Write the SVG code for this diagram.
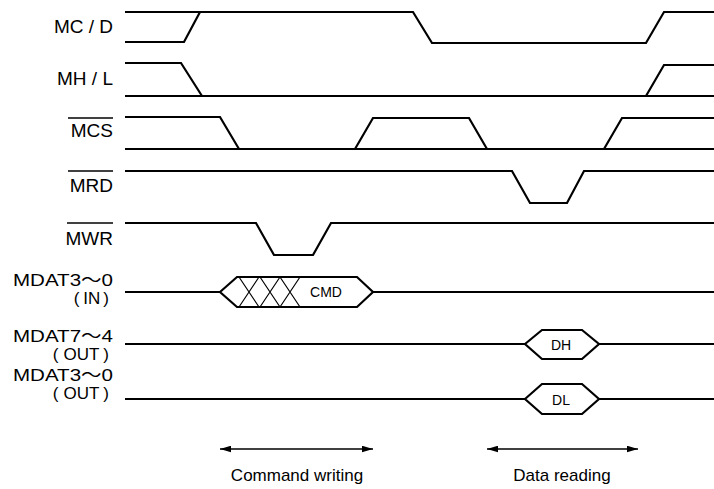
<svg xmlns="http://www.w3.org/2000/svg" width="714" height="489" viewBox="0 0 714 489">
<style>
.sig{fill:none;stroke:#000;stroke-width:2.2;stroke-linejoin:miter}
.thin{fill:none;stroke:#000;stroke-width:1.2}
.lbl{font-family:"Liberation Sans",Arial,"Noto Sans CJK JP",sans-serif;font-size:19px;fill:#000;text-anchor:end}
.lbs{font-family:"Liberation Sans",Arial,"Noto Sans CJK JP",sans-serif;font-size:17px;fill:#000;text-anchor:end}
.val{font-family:"Liberation Sans",Arial,sans-serif;font-size:14px;fill:#000;text-anchor:middle}
.cap{font-family:"Liberation Sans",Arial,sans-serif;font-size:17px;fill:#000;text-anchor:middle}
.ov{stroke:#000;stroke-width:1.6}
.arr{stroke:#000;stroke-width:1.4;fill:none;marker-start:url(#ah);marker-end:url(#ah)}
</style>
<defs>
<marker id="ah" viewBox="0 0 10 6" refX="10" refY="3" markerWidth="11" markerHeight="7" markerUnits="userSpaceOnUse" orient="auto-start-reverse">
<path d="M0,0 L10,3 L0,6 Z" fill="#000"/>
</marker>
</defs>
<rect width="714" height="489" fill="#fff"/>

<g id="MCD">
<text class="lbl" x="113" y="33">MC / D</text>
<path class="sig" d="M125,12 H413 L432,43 H646 L664,12 H714"/>
<path class="sig" d="M125,42 H184 L200,12"/>
</g>

<g id="MHL">
<text class="lbl" x="113" y="85">MH / L</text>
<path class="sig" d="M125,63 H181 L202,96"/>
<path class="sig" d="M125,96 H714"/>
<path class="sig" d="M646,96 L664,65 H714"/>
</g>

<g id="MCS">
<text class="lbl" x="113" y="137">MCS</text>
<line class="ov" x1="68" y1="118" x2="113" y2="118"/>
<path class="sig" d="M125,117 H220 L239,149"/>
<path class="sig" d="M125,149 H714"/>
<path class="sig" d="M355,149 L373,118 H469 L487,149"/>
<path class="sig" d="M604,149 L622,118 H714"/>
</g>

<g id="MRD">
<text class="lbl" x="113" y="192">MRD</text>
<line class="ov" x1="68" y1="171" x2="113" y2="171"/>
<path class="sig" d="M125,171 H512 L530,203 H567 L584,171 H714"/>
</g>

<g id="MWR">
<text class="lbl" x="113" y="245">MWR</text>
<line class="ov" x1="67" y1="223" x2="113" y2="223"/>
<path class="sig" d="M125,223 H256 L274,255 H313 L331,223 H714"/>
</g>

<g id="MDAT30IN">
<text class="lbs" x="113" y="286" textLength="100" lengthAdjust="spacingAndGlyphs">MDAT3～0</text>
<text class="lbs" x="109" y="304">(<tspan dx="4">IN</tspan><tspan dx="3">)</tspan></text>
<path class="sig" d="M125,292 H220 M373,292 H714"/>
<path class="sig" d="M220,292 L237,277 H357 L373,292 L357,307 H237 Z"/>
<path class="thin" d="M239,277 L259,307 M259,277 L239,307 M260,277 L280,307 M280,277 L260,307 M280,277 L300,307 M300,277 L280,307"/>
<text class="val" x="326" y="297">CMD</text>
</g>

<g id="MDAT74OUT">
<text class="lbs" x="113" y="342" textLength="100" lengthAdjust="spacingAndGlyphs">MDAT7～4</text>
<text class="lbs" x="109" y="360">(<tspan dx="5">OUT</tspan><tspan dx="4">)</tspan></text>
<path class="sig" d="M125,344 H525 M599,344 H714"/>
<path class="sig" d="M525,344 L542,330 H582 L599,344 L582,359 H542 Z"/>
<text class="val" x="561" y="350">DH</text>
</g>

<g id="MDAT30OUT">
<text class="lbs" x="113" y="381" textLength="100" lengthAdjust="spacingAndGlyphs">MDAT3～0</text>
<text class="lbs" x="109" y="399">(<tspan dx="5">OUT</tspan><tspan dx="4">)</tspan></text>
<path class="sig" d="M125,399 H525 M599,399 H714"/>
<path class="sig" d="M525,399 L542,384 H582 L599,399 L582,414 H542 Z"/>
<text class="val" x="561" y="405">DL</text>
</g>

<g id="connectors">
<line class="arr" x1="220" y1="449" x2="373" y2="449"/>
<line class="arr" x1="487" y1="449" x2="638" y2="449"/>
</g>

<g id="captions">
<text class="cap" x="297" y="481">Command writing</text>
<text class="cap" x="562" y="481">Data reading</text>
</g>
</svg>
